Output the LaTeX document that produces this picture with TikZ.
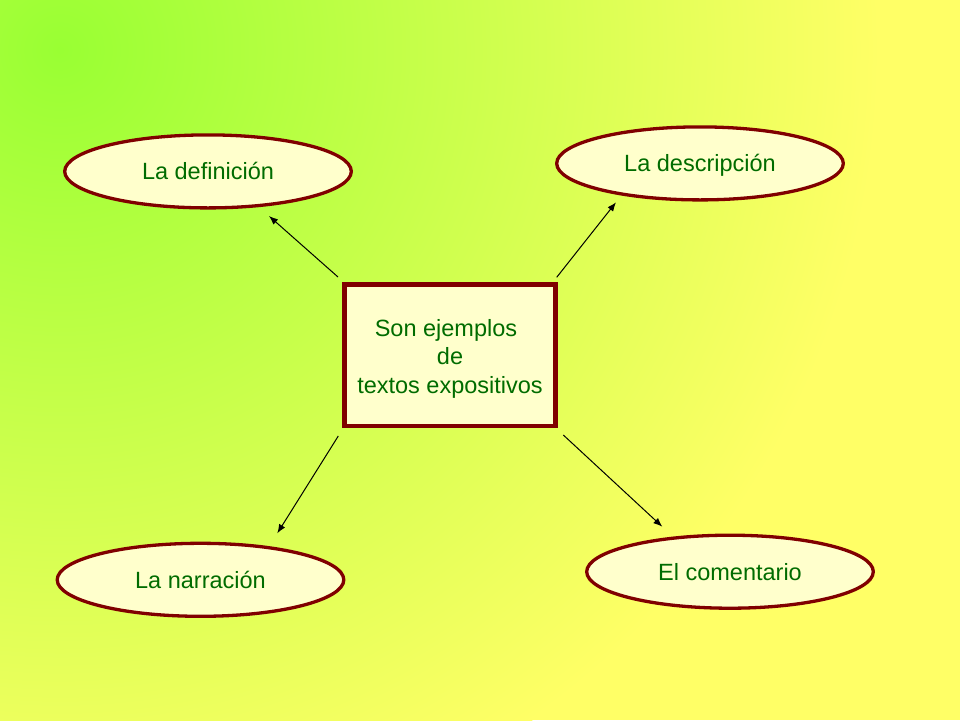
\documentclass[tikz,border=0pt]{standalone}
\usepackage{fontspec}
\setmainfont{Liberation Sans}
\usetikzlibrary{shapes.geometric,arrows.meta}
\definecolor{bgGreen}{RGB}{153,255,51}
\definecolor{bgYellow}{RGB}{255,255,102}
\definecolor{boxRed}{RGB}{128,0,0}
\definecolor{boxFill}{RGB}{255,255,204}
\definecolor{txtGreen}{RGB}{0,108,0}
\begin{document}
\begin{tikzpicture}[x=1pt,y=-1pt,
  oval/.style={ellipse, draw=boxRed, line width=3.3pt, fill=boxFill,
    minimum width=286.6pt, minimum height=73pt, inner sep=0pt,
    text=txtGreen, font=\fontsize{23.5}{28}\selectfont,
    text height=17pt, text depth=0pt},
  centerbox/.style={rectangle, draw=boxRed, line width=4.3pt, fill=boxFill,
    minimum width=211pt, minimum height=141.8pt, inner sep=0pt,
    text=txtGreen, font=\fontsize{23.5}{28.5}\selectfont},
  arr/.style={-{Latex[length=9pt,width=7pt]}, line width=1pt, black}]
\useasboundingbox (0,0) rectangle (960,720);
\begin{scope}
  \clip (0,0) rectangle (960,720);
  \fill[bgYellow] (0,0) rectangle (960,720);
  \shade[inner color=bgGreen, outer color=bgYellow] (60,50) circle (820);
\end{scope}

\node[oval] (def)  at (208,171.4)   {La definición};
\node[oval] (desc) at (700,163.4)   {La descripción};
\node[oval] (narr) at (200.5,579.8) {La narración};
\node[oval] (com)  at (730,571.7)   {El comentario};

\node[centerbox] (box) at (450,355.4)
  {\raisebox{-3.4pt}[\height][\depth]{\begin{tabular}{@{}c@{}}Son ejemplos\hspace*{8pt}\\de\\textos expositivos\end{tabular}}};

\coordinate (s1) at (338,277);     \coordinate (t1) at (269,216);
\coordinate (s2) at (556.7,277.3); \coordinate (t2) at (616,202.3);
\coordinate (s3) at (338.3,436);   \coordinate (t3) at (277.3,533.3);
\coordinate (s4) at (563.3,435);   \coordinate (t4) at (662.3,526.7);

\draw[arr] (s1) -- (t1);
\draw[arr] (s2) -- (t2);
\draw[arr] (s3) -- (t3);
\draw[arr] (s4) -- (t4);
\end{tikzpicture}
\end{document}
